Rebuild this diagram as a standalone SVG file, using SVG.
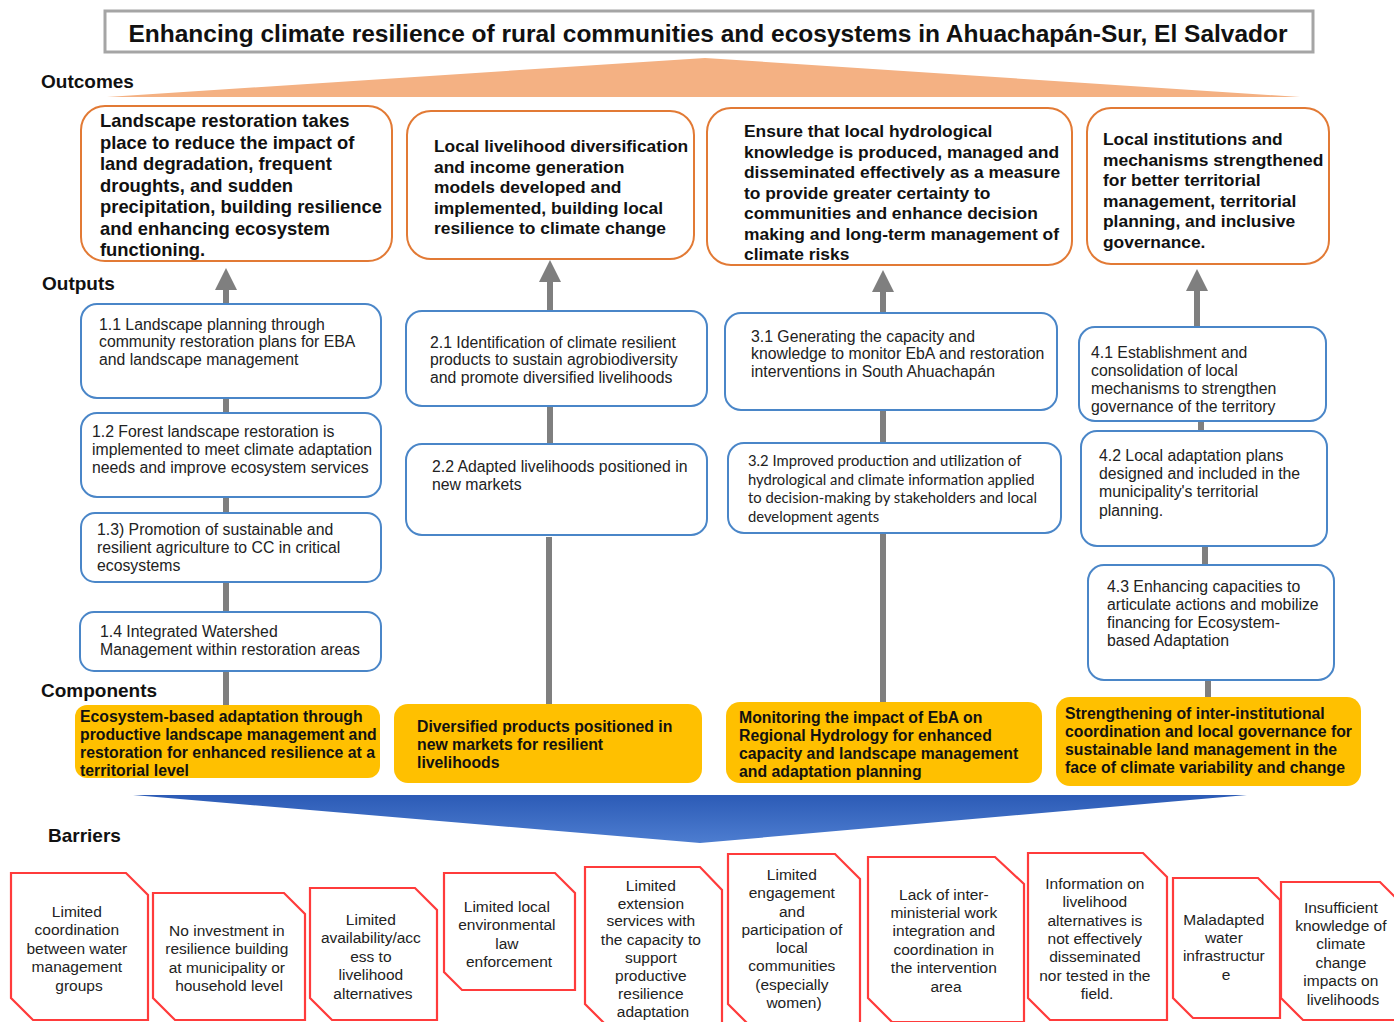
<svg xmlns="http://www.w3.org/2000/svg" width="1394" height="1022" viewBox="0 0 1394 1022">
  <style>
    .title { font-family: "Liberation Sans", Arial, sans-serif; font-weight: bold; font-size: 24.5px; fill: #111; }
    .sec { font-family: "Liberation Sans", Arial, sans-serif; font-weight: bold; font-size: 19px; fill: #111; }
    .outc { fill: #fff; stroke: #E27A35; stroke-width: 2; }
    .outc-t { font-family: "Liberation Sans", Arial, sans-serif; font-weight: bold; font-size: 17.4px; fill: #111; }
    .outp { fill: #fff; stroke: #4A86C8; stroke-width: 2; }
    .outp-t { font-family: "Liberation Sans", Arial, sans-serif; font-size: 15.8px; fill: #222; }
    .outp-s { font-family: Lato, "Liberation Sans", sans-serif; font-size: 14.8px; fill: #222; }
    .comp { fill: #FFC000; }
    .comp-t { font-family: "Liberation Sans", Arial, sans-serif; font-weight: bold; font-size: 15.8px; fill: #111; }
    .bar { fill: #fff; stroke: #FF3B3B; stroke-width: 2.2; }
    .bar-t { font-family: "Liberation Sans", Arial, sans-serif; font-size: 15.5px; fill: #222; text-anchor: middle; }
    .conn { stroke: #7F7F7F; stroke-width: 6; fill: none; }
  </style>
  <defs>
    <marker id="head" viewBox="0 0 22 22" markerWidth="22" markerHeight="22" refX="0" refY="11" markerUnits="userSpaceOnUse" orient="auto">
      <path d="M0,0 L22,11 L0,22 z" fill="#7F7F7F"/>
    </marker>
    <linearGradient id="blueFan" x1="0" y1="0" x2="0" y2="1">
      <stop offset="0" stop-color="#2C5BB6"/>
      <stop offset="1" stop-color="#4D7DD0"/>
    </linearGradient>
  </defs>

  <rect width="1394" height="1022" fill="#fff"/>

  <!-- title -->
  <g id="title">
    <rect x="105" y="11" width="1208" height="41" fill="#fff" stroke="#A5A5A5" stroke-width="3"/>
    <text class="title" x="708" y="42" text-anchor="middle">Enhancing climate resilience of rural communities and ecosystems in Ahuachapán-Sur, El Salvador</text>
  </g>

  <!-- level wedges -->
  <polygon id="outcome-fan" points="107,97 705,58 1300,97" fill="#F4B183"/>
  <polygon id="barrier-fan" points="133,795 1247,795 700,843" fill="url(#blueFan)"/>

  <!-- section labels -->
  <g id="labels">
    <text class="sec" x="41" y="88">Outcomes</text>
    <text class="sec" x="42" y="290">Outputs</text>
    <text class="sec" x="41" y="697">Components</text>
    <text class="sec" x="48" y="842">Barriers</text>
  </g>

  <!-- connectors -->
  <g id="connectors" class="conn">
    <line x1="226" y1="306" x2="226" y2="290" marker-end="url(#head)"/>
    <line x1="226" y1="376" x2="226" y2="413"/>
    <line x1="226" y1="483" x2="226" y2="513"/>
    <line x1="226" y1="582" x2="226" y2="613"/>
    <line x1="226" y1="663" x2="226" y2="706"/>

    <line x1="550" y1="310" x2="550" y2="282" marker-end="url(#head)"/>
    <line x1="550" y1="407" x2="550" y2="448"/>
    <line x1="549" y1="537" x2="549" y2="705"/>

    <line x1="883" y1="318" x2="883" y2="292" marker-end="url(#head)"/>
    <line x1="883" y1="407" x2="883" y2="445"/>
    <line x1="883" y1="532" x2="883" y2="703"/>

    <line x1="1197" y1="334" x2="1197" y2="291" marker-end="url(#head)"/>
    <line x1="1201" y1="421" x2="1201" y2="438"/>
    <line x1="1205" y1="543" x2="1205" y2="568"/>
    <line x1="1208" y1="657" x2="1208" y2="698"/>
  </g>

  <!-- outcomes -->
  <g id="outcome-1">
    <rect class="outc" x="81" y="106" width="311" height="155" rx="24"/>
    <text class="outc-t" style="font-size:18.4px">
      <tspan x="100" y="127">Landscape restoration takes</tspan>
      <tspan x="100" y="148.5">place to reduce the impact of</tspan>
      <tspan x="100" y="170">land degradation, frequent</tspan>
      <tspan x="100" y="191.5">droughts, and sudden</tspan>
      <tspan x="100" y="213">precipitation, building resilience</tspan>
      <tspan x="100" y="234.5">and enhancing ecosystem</tspan>
      <tspan x="100" y="256">functioning.</tspan>
    </text>
  </g>
  <g id="outcome-2">
    <rect class="outc" x="407" y="111" width="287" height="148" rx="24"/>
    <text class="outc-t">
      <tspan x="434" y="152">Local livelihood diversification</tspan>
      <tspan x="434" y="172.5">and income generation</tspan>
      <tspan x="434" y="193">models developed and</tspan>
      <tspan x="434" y="213.5">implemented, building local</tspan>
      <tspan x="434" y="234">resilience to climate change</tspan>
    </text>
  </g>
  <g id="outcome-3">
    <rect class="outc" x="707" y="108" width="365" height="157" rx="24"/>
    <text class="outc-t">
      <tspan x="744" y="137">Ensure that local hydrological</tspan>
      <tspan x="744" y="157.5">knowledge is produced, managed and</tspan>
      <tspan x="744" y="178">disseminated effectively as a measure</tspan>
      <tspan x="744" y="198.5">to provide greater certainty to</tspan>
      <tspan x="744" y="219">communities and enhance decision</tspan>
      <tspan x="744" y="239.5">making and long-term management of</tspan>
      <tspan x="744" y="260">climate risks</tspan>
    </text>
  </g>
  <g id="outcome-4">
    <rect class="outc" x="1087" y="108" width="242" height="156" rx="24"/>
    <text class="outc-t">
      <tspan x="1103" y="145">Local institutions and</tspan>
      <tspan x="1103" y="165.5">mechanisms strengthened</tspan>
      <tspan x="1103" y="186">for better territorial</tspan>
      <tspan x="1103" y="206.5">management, territorial</tspan>
      <tspan x="1103" y="227">planning, and inclusive</tspan>
      <tspan x="1103" y="247.5">governance.</tspan>
    </text>
  </g>

  <!-- outputs -->
  <g id="output-1-1">
    <rect class="outp" x="81" y="304" width="300" height="94" rx="16"/>
    <text class="outp-t">
      <tspan x="99" y="329.5">1.1 Landscape planning through</tspan>
      <tspan x="99" y="347">community restoration plans for EBA</tspan>
      <tspan x="99" y="364.5">and landscape management</tspan>
    </text>
  </g>
  <g id="output-1-2">
    <rect class="outp" x="81" y="413" width="300" height="84" rx="16"/>
    <text class="outp-t">
      <tspan x="92" y="436.5">1.2 Forest landscape restoration is</tspan>
      <tspan x="92" y="454.5">implemented to meet climate adaptation</tspan>
      <tspan x="92" y="472.5">needs and improve ecosystem services</tspan>
    </text>
  </g>
  <g id="output-1-3">
    <rect class="outp" x="81" y="513" width="300" height="69" rx="14"/>
    <text class="outp-t">
      <tspan x="97" y="535">1.3) Promotion of sustainable and</tspan>
      <tspan x="97" y="553">resilient agriculture to CC in critical</tspan>
      <tspan x="97" y="571">ecosystems</tspan>
    </text>
  </g>
  <g id="output-1-4">
    <rect class="outp" x="80" y="612" width="301" height="59" rx="14"/>
    <text class="outp-t">
      <tspan x="100" y="636.5">1.4 Integrated Watershed</tspan>
      <tspan x="100" y="655">Management within restoration areas</tspan>
    </text>
  </g>
  <g id="output-2-1">
    <rect class="outp" x="406" y="311" width="301" height="95" rx="16"/>
    <text class="outp-t">
      <tspan x="430" y="347.5">2.1 Identification of climate resilient</tspan>
      <tspan x="430" y="365">products to sustain agrobiodiversity</tspan>
      <tspan x="430" y="382.5">and promote diversified livelihoods</tspan>
    </text>
  </g>
  <g id="output-2-2">
    <rect class="outp" x="406" y="444" width="301" height="91" rx="16"/>
    <text class="outp-t">
      <tspan x="432" y="471.5">2.2 Adapted livelihoods positioned in</tspan>
      <tspan x="432" y="489.5">new markets</tspan>
    </text>
  </g>
  <g id="output-3-1">
    <rect class="outp" x="725" y="313" width="332" height="97" rx="16"/>
    <text class="outp-t">
      <tspan x="751" y="341.5">3.1 Generating the capacity and</tspan>
      <tspan x="751" y="359">knowledge to monitor EbA and restoration</tspan>
      <tspan x="751" y="376.5">interventions in South Ahuachapán</tspan>
    </text>
  </g>
  <g id="output-3-2">
    <rect class="outp" x="728" y="443" width="333" height="90" rx="16"/>
    <text class="outp-s">
      <tspan x="748" y="466">3.2 Improved production and utilization of</tspan>
      <tspan x="748" y="484.5">hydrological and climate information applied</tspan>
      <tspan x="748" y="503">to decision-making by stakeholders and local</tspan>
      <tspan x="748" y="521.5">development agents</tspan>
    </text>
  </g>
  <g id="output-4-1">
    <rect class="outp" x="1079" y="327" width="247" height="94" rx="16"/>
    <text class="outp-t">
      <tspan x="1091" y="357.5">4.1 Establishment and</tspan>
      <tspan x="1091" y="375.5">consolidation of local</tspan>
      <tspan x="1091" y="394">mechanisms to strengthen</tspan>
      <tspan x="1091" y="412">governance of the territory</tspan>
    </text>
  </g>
  <g id="output-4-2">
    <rect class="outp" x="1081" y="431" width="246" height="115" rx="16"/>
    <text class="outp-t">
      <tspan x="1099" y="460.5">4.2 Local adaptation plans</tspan>
      <tspan x="1099" y="479">designed and included in the</tspan>
      <tspan x="1099" y="497">municipality's territorial</tspan>
      <tspan x="1099" y="515.5">planning.</tspan>
    </text>
  </g>
  <g id="output-4-3">
    <rect class="outp" x="1088" y="565" width="246" height="115" rx="16"/>
    <text class="outp-t">
      <tspan x="1107" y="591.5">4.3 Enhancing capacities to</tspan>
      <tspan x="1107" y="610">articulate actions and mobilize</tspan>
      <tspan x="1107" y="627.5">financing for Ecosystem-</tspan>
      <tspan x="1107" y="645.5">based Adaptation</tspan>
    </text>
  </g>

  <!-- components -->
  <g id="component-1">
    <rect class="comp" x="75" y="705" width="305" height="73" rx="12"/>
    <text class="comp-t">
      <tspan x="80" y="721.5">Ecosystem-based adaptation through</tspan>
      <tspan x="80" y="739.5">productive landscape management and</tspan>
      <tspan x="80" y="757.5">restoration for enhanced resilience at a</tspan>
      <tspan x="80" y="775.5">territorial level</tspan>
    </text>
  </g>
  <g id="component-2">
    <rect class="comp" x="394" y="704" width="308" height="79" rx="14"/>
    <text class="comp-t">
      <tspan x="417" y="731.5">Diversified products positioned in</tspan>
      <tspan x="417" y="750">new markets for resilient</tspan>
      <tspan x="417" y="767.5">livelihoods</tspan>
    </text>
  </g>
  <g id="component-3">
    <rect class="comp" x="726" y="702" width="316" height="81" rx="14"/>
    <text class="comp-t">
      <tspan x="739" y="722.5">Monitoring the impact of EbA on</tspan>
      <tspan x="739" y="740.5">Regional Hydrology for enhanced</tspan>
      <tspan x="739" y="758.5">capacity and landscape management</tspan>
      <tspan x="739" y="777">and adaptation planning</tspan>
    </text>
  </g>
  <g id="component-4">
    <rect class="comp" x="1056" y="697" width="305" height="89" rx="14"/>
    <text class="comp-t">
      <tspan x="1065" y="718.5">Strengthening of inter-institutional</tspan>
      <tspan x="1065" y="736.5">coordination and local governance for</tspan>
      <tspan x="1065" y="754.5">sustainable land management in the</tspan>
      <tspan x="1065" y="772.5">face of climate variability and change</tspan>
    </text>
  </g>

  <!-- barriers: rectangles with the top-right and bottom-left corners snipped -->
  <g id="barrier-1">
    <polygon class="bar" points="11,873 126,873 148,895 148,1020 33,1020 11,998"/>
    <text class="bar-t">
      <tspan x="79" y="916.5">Limited</tspan>
      <tspan x="79" y="935">coordination</tspan>
      <tspan x="79" y="953.5">between water</tspan>
      <tspan x="79" y="972">management</tspan>
      <tspan x="79" y="990.5">groups</tspan>
    </text>
  </g>
  <g id="barrier-2">
    <polygon class="bar" points="153,893 284,893 305,914 305,1020 175,1020 153,998"/>
    <text class="bar-t">
      <tspan x="229" y="935.5">No investment in</tspan>
      <tspan x="229" y="954">resilience building</tspan>
      <tspan x="229" y="972.5">at municipality or</tspan>
      <tspan x="229" y="991">household level</tspan>
    </text>
  </g>
  <g id="barrier-3">
    <polygon class="bar" points="310,888 415,888 437,910 437,1020 332,1020 310,998"/>
    <text class="bar-t">
      <tspan x="373" y="924.5">Limited</tspan>
      <tspan x="373" y="943">availability/acc</tspan>
      <tspan x="373" y="961.5">ess to</tspan>
      <tspan x="373" y="980">livelihood</tspan>
      <tspan x="373" y="998.5">alternatives</tspan>
    </text>
  </g>
  <g id="barrier-4">
    <polygon class="bar" points="444,873 555,873 575,893 575,990 462,990 444,972"/>
    <text class="bar-t">
      <tspan x="509" y="911.5">Limited local</tspan>
      <tspan x="509" y="930">environmental</tspan>
      <tspan x="509" y="948.5">law</tspan>
      <tspan x="509" y="967">enforcement</tspan>
    </text>
  </g>
  <g id="barrier-5">
    <polygon class="bar" points="585,867 700,867 722,890 722,1026 607,1026 585,1004"/>
    <text class="bar-t">
      <tspan x="653" y="890.5">Limited</tspan>
      <tspan x="653" y="908.5">extension</tspan>
      <tspan x="653" y="926">services with</tspan>
      <tspan x="653" y="944.5">the capacity to</tspan>
      <tspan x="653" y="962.5">support</tspan>
      <tspan x="653" y="980.5">productive</tspan>
      <tspan x="653" y="998.5">resilience</tspan>
      <tspan x="653" y="1016.5">adaptation</tspan>
    </text>
  </g>
  <g id="barrier-6">
    <polygon class="bar" points="728,854 835,854 860,879 860,1026 750,1026 728,1004"/>
    <text class="bar-t">
      <tspan x="794" y="879.5">Limited</tspan>
      <tspan x="794" y="898">engagement</tspan>
      <tspan x="794" y="916.5">and</tspan>
      <tspan x="794" y="934.5">participation of</tspan>
      <tspan x="794" y="952.5">local</tspan>
      <tspan x="794" y="971">communities</tspan>
      <tspan x="794" y="989.5">(especially</tspan>
      <tspan x="794" y="1007.5">women)</tspan>
    </text>
  </g>
  <g id="barrier-7">
    <polygon class="bar" points="868,857 995,857 1024,884 1024,1022 892,1022 868,998"/>
    <text class="bar-t">
      <tspan x="946" y="899.5">Lack of inter-</tspan>
      <tspan x="946" y="918">ministerial work</tspan>
      <tspan x="946" y="936">integration and</tspan>
      <tspan x="946" y="954.5">coordination in</tspan>
      <tspan x="946" y="973">the intervention</tspan>
      <tspan x="946" y="991.5">area</tspan>
    </text>
  </g>
  <g id="barrier-8">
    <polygon class="bar" points="1028,853 1143,853 1167,877 1167,1020 1050,1020 1028,998"/>
    <text class="bar-t">
      <tspan x="1097" y="888.5">Information on</tspan>
      <tspan x="1097" y="907">livelihood</tspan>
      <tspan x="1097" y="925.5">alternatives is</tspan>
      <tspan x="1097" y="943.5">not effectively</tspan>
      <tspan x="1097" y="962">disseminated</tspan>
      <tspan x="1097" y="980.5">nor tested in the</tspan>
      <tspan x="1097" y="998.5">field.</tspan>
    </text>
  </g>
  <g id="barrier-9">
    <polygon class="bar" points="1173,878 1258,878 1280,900 1280,1018 1193,1018 1173,998"/>
    <text class="bar-t">
      <tspan x="1226" y="924.5">Maladapted</tspan>
      <tspan x="1226" y="943">water</tspan>
      <tspan x="1226" y="961">infrastructur</tspan>
      <tspan x="1226" y="979.5">e</tspan>
    </text>
  </g>
  <g id="barrier-10">
    <polygon class="bar" points="1281,882 1380,882 1402,904 1402,1020 1303,1020 1281,998"/>
    <text class="bar-t">
      <tspan x="1343" y="912.5">Insufficient</tspan>
      <tspan x="1343" y="931">knowledge of</tspan>
      <tspan x="1343" y="949">climate</tspan>
      <tspan x="1343" y="967.5">change</tspan>
      <tspan x="1343" y="986">impacts on</tspan>
      <tspan x="1343" y="1004.5">livelihoods</tspan>
    </text>
  </g>
</svg>
